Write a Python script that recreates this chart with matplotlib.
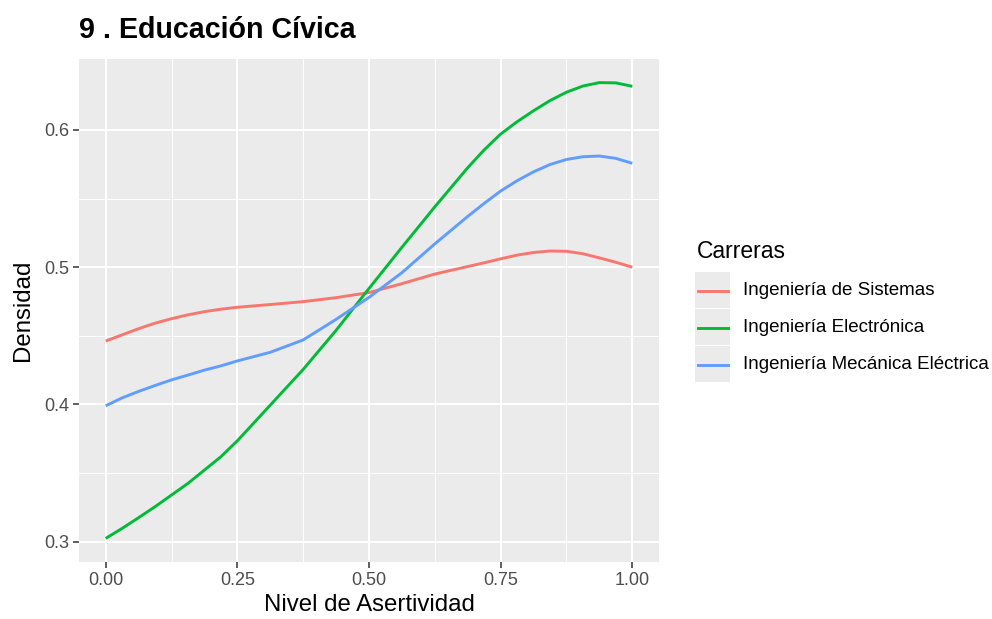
import matplotlib
matplotlib.use("Agg")
import matplotlib.pyplot as plt
from matplotlib.patches import Rectangle
from matplotlib.lines import Line2D

plt.rcParams["font.family"] = ["Liberation Sans", "DejaVu Sans"]

# valores (densidad vs nivel de asertividad)
nivel = [0.0, 0.03125, 0.0625, 0.09375, 0.125, 0.15625, 0.1875, 0.21875, 0.25,
         0.3125, 0.375, 0.4375, 0.5, 0.5625, 0.625, 0.6875,
         0.71875, 0.75, 0.78125, 0.8125, 0.84375, 0.875, 0.90625, 0.9375, 0.96875, 1.0]
sistemas = [0.4462, 0.4507, 0.4552, 0.4592, 0.4625, 0.4653, 0.4676, 0.4694, 0.4708,
            0.4728, 0.4749, 0.4778, 0.4815, 0.4880, 0.4950, 0.5005,
            0.5032, 0.5061, 0.5088, 0.5107, 0.5118, 0.5116, 0.5098, 0.5068, 0.5036, 0.5000]
electronica = [0.3024, 0.3097, 0.3175, 0.3255, 0.3340, 0.3425, 0.3522, 0.3619, 0.3735,
               0.3995, 0.4255, 0.4540, 0.4845, 0.5145, 0.5440, 0.5725,
               0.5855, 0.5970, 0.6060, 0.6140, 0.6214, 0.6275, 0.6320, 0.6345, 0.6343, 0.6318]
mecanica = [0.3990, 0.4048, 0.4095, 0.4138, 0.4179, 0.4214, 0.4250, 0.4281, 0.4317,
            0.4380, 0.4470, 0.4620, 0.4780, 0.4960, 0.5170, 0.5370,
            0.5465, 0.5555, 0.5630, 0.5695, 0.5748, 0.5785, 0.5805, 0.5810, 0.5793, 0.5757]

carreras = ["Ingeniería de Sistemas", "Ingeniería Electrónica",
            "Ingeniería Mecánica Eléctrica"]
colores = ["#F8766D", "#00BA38", "#619CFF"]
xticks = [0.0, 0.25, 0.5, 0.75, 1.0]
yticks = [0.3, 0.4, 0.5, 0.6]

W, H = 992, 619
fig = plt.figure(figsize=(W / 100, H / 100), dpi=100)
ax = fig.add_axes([79 / W, 1 - 562 / H, (659 - 79) / W, (562 - 59) / H])
ax.set_facecolor("#EBEBEB")

for serie, color in zip([sistemas, electronica, mecanica], colores):
    ax.plot(nivel, serie, color=color, lw=2.1, solid_capstyle="butt",
            solid_joinstyle="round", zorder=3)

ax.set_xlim(-0.0507, 1.0507)
ax.set_ylim(0.2852, 0.6517)
ax.set_xticks(xticks, [f"{v:.2f}" for v in xticks])
ax.set_yticks(yticks, [f"{v:.1f}" for v in yticks])
ax.set_xticks([0.125, 0.375, 0.625, 0.875], minor=True)
ax.set_yticks([0.35, 0.45, 0.55], minor=True)
ax.grid(which="major", color="white", lw=1.5, zorder=0)
ax.grid(which="minor", color="white", lw=0.7, zorder=0)
ax.set_axisbelow(True)
for s in ax.spines.values():
    s.set_visible(False)
ax.tick_params(which="major", length=4, width=1.1, color="#333333",
               labelcolor="#4D4D4D", labelsize=13, pad=3)
ax.tick_params(which="minor", length=0)

ax.set_xlabel("Nivel de Asertividad", fontsize=17.3, color="black", labelpad=4)
ax.set_ylabel("Densidad", fontsize=17.3, color="black", labelpad=7)
fig.text(79 / W, 1 - 38 / H, "9 . Educación Cívica", fontsize=20.6,
         fontweight="bold", ha="left", va="baseline")

# leyenda al estilo ggplot
fig.text(697 / W, 1 - 258 / H, "Carreras", fontsize=16.5, ha="left", va="baseline")
key_w, key_h = 35, 37
for i, (nombre, color) in enumerate(zip(carreras, colores)):
    y0 = 272 + i * key_h
    fig.add_artist(Rectangle((695 / W, 1 - (y0 + key_h - 1) / H), key_w / W,
                             (key_h - 1) / H, transform=fig.transFigure,
                             facecolor="#EBEBEB", edgecolor="none"))
    yc = 1 - (y0 + key_h / 2) / H
    fig.add_artist(Line2D([698 / W, 728 / W], [yc, yc], transform=fig.transFigure,
                          color=color, lw=2.1))
    fig.text(743 / W, yc, nombre, fontsize=13.5, ha="left", va="center")

fig.savefig("out.png", dpi=100)
